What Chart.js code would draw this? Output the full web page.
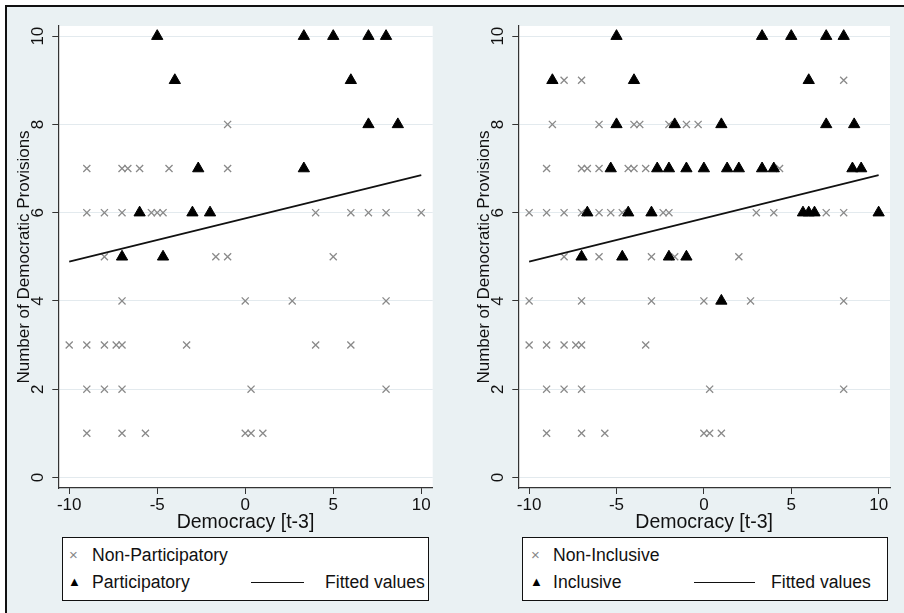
<!DOCTYPE html>
<html>
<head>
<meta charset="utf-8">
<script src="https://cdn.jsdelivr.net/npm/chart.js@4.4.1/dist/chart.umd.min.js"></script>
<style>
  html, body { margin: 0; padding: 0; background: #fff; }
  body { width: 904px; height: 613px; position: relative; overflow: hidden;
         font-family: 'Liberation Sans', Arial, sans-serif; color: #111; }
  #frame { position: absolute; left: 5px; top: 5px; width: 910px; height: 620px;
           border-top: 2px solid #111; border-left: 2px solid #111; background: #eaf1f3; }
  canvas { position: absolute; }
  .legend { position: absolute; top: 537px; height: 62px; border: 1px solid #111; background: #fff; }
  .lg { position: absolute; font-size: 17.6px; line-height: 20px; height: 20px; white-space: nowrap; }
  .mk-x { color: #888; font-size: 15px; }
  .mk-t { color: #000; font-size: 13px; }
  .fitline { position: absolute; height: 0; border-top: 1.6px solid #111; }
</style>
</head>
<body>
<div id="frame"></div>
<canvas id="left" width="443" height="530" style="left:7px; top:7px;"></canvas>
<canvas id="right" width="437" height="530" style="left:467px; top:7px;"></canvas>

<div class="legend" style="left:62px; width:365px;"></div>
<div class="lg mk-x" style="left:69px; top:545px;">×</div>
<div class="lg" style="left:92px; top:545px;">Non-Participatory</div>
<div class="lg mk-t" style="left:68px; top:572px;">▲</div>
<div class="lg" style="left:92px; top:572px;">Participatory</div>
<div class="fitline" style="left:251px; top:582px; width:53px;"></div>
<div class="lg" style="left:325px; top:572px;">Fitted values</div>

<div class="legend" style="left:522px; width:364px;"></div>
<div class="lg mk-x" style="left:531px; top:545px;">×</div>
<div class="lg" style="left:553px; top:545px;">Non-Inclusive</div>
<div class="lg mk-t" style="left:530px; top:572px;">▲</div>
<div class="lg" style="left:553px; top:572px;">Inclusive</div>
<div class="fitline" style="left:694px; top:582px; width:61px;"></div>
<div class="lg" style="left:771px; top:572px;">Fitted values</div>

<script>
// axis ticks
const xTicks = [-10, -5, 0, 5, 10];
const yTicks = [0, 2, 4, 6, 8, 10];

// left panel: non-participatory (x marks)
const nonPartX = [-1,
  -9, -7, -6.67, -6, -4.33, -1,
  -9, -8, -7, -5.33, -5, -4.67, 4, 6, 7, 8, 10,
  -8, -1.67, -1, 5,
  -7, 0, 2.67, 8,
  -10, -9, -8, -7.33, -7, -3.33, 4, 6,
  -9, -8, -7, 0.33, 8,
  -9, -7, -5.67, 0, 0.33, 1];
const nonPartY = [8,
  7, 7, 7, 7, 7, 7,
  6, 6, 6, 6, 6, 6, 6, 6, 6, 6, 6,
  5, 5, 5, 5,
  4, 4, 4, 4,
  3, 3, 3, 3, 3, 3, 3, 3,
  2, 2, 2, 2, 2,
  1, 1, 1, 1, 1, 1];

// left panel: participatory (triangles)
const partX = [-5, 3.33, 5, 7, 8, -4, 6, 7, 8.67, -2.67, 3.33, -6, -3, -2, -7, -4.67];
const partY = [10, 10, 10, 10, 10, 9, 9, 8, 8, 7, 7, 6, 6, 6, 5, 5];

// right panel: non-inclusive (x marks)
const nonInclX = [-8, -7, 8,
  -8.67, -6, -4, -3.67, -2, -1, -0.33,
  -9, -7, -6.67, -6, -4.33, -4, -3.33, 4.33,
  -10, -9, -8, -7, -6, -5.33, -4.67, -2.33, -2, 3, 4, 7, 8,
  -8, -6, -3, -1.67, 2,
  -10, -7, -3, 0, 2.67, 8,
  -10, -9, -8, -7.33, -7, -3.33,
  -9, -8, -7, 0.33, 8,
  -9, -7, -5.67, 0, 0.33, 1];
const nonInclY = [9, 9, 9,
  8, 8, 8, 8, 8, 8, 8,
  7, 7, 7, 7, 7, 7, 7, 7,
  6, 6, 6, 6, 6, 6, 6, 6, 6, 6, 6, 6, 6,
  5, 5, 5, 5, 5,
  4, 4, 4, 4, 4, 4,
  3, 3, 3, 3, 3, 3,
  2, 2, 2, 2, 2,
  1, 1, 1, 1, 1, 1];

// right panel: inclusive (triangles)
const inclX = [-5, 3.33, 5, 7, 8,
  -8.67, -4, 6,
  -5, -1.67, 1, 7, 8.6,
  -5.33, -2.67, -2, -1, 0, 1.33, 2, 3.33, 4, 8.5, 9,
  -6.67, -4.33, -3, 5.67, 6, 6.33, 10,
  -7, -4.67, -2, -1,
  1];
const inclY = [10, 10, 10, 10, 10,
  9, 9, 9,
  8, 8, 8, 8, 8,
  7, 7, 7, 7, 7, 7, 7, 7, 7, 7, 7,
  6, 6, 6, 6, 6, 6, 6,
  5, 5, 5, 5,
  4];

// fitted line end points (same in both panels)
const fitX = [-10, 10];
const fitY = [4.89, 6.85];

const FONT = "'Liberation Sans', Arial, sans-serif";

const plotBg = {
  id: 'plotBg',
  beforeDraw(chart) {
    const { ctx, chartArea: a } = chart;
    ctx.save();
    ctx.fillStyle = '#ffffff';
    ctx.fillRect(a.left, a.top, a.right - a.left, a.bottom - a.top);
    ctx.restore();
  }
};

function toPoints(xs, ys) {
  return xs.map((x, i) => ({ x: x, y: ys[i] }));
}

function makePanel(id, crossX, crossY, triX, triY, crossLabel, triLabel, padRight) {
  const ctx = document.getElementById(id);
  return new Chart(ctx, {
    type: 'scatter',
    data: {
      datasets: [{
        type: 'line',
        label: 'Fitted values',
        data: toPoints(fitX, fitY),
        borderColor: '#111',
        borderWidth: 1.6,
        pointRadius: 0,
        fill: false
      }, {
        label: triLabel,
        data: toPoints(triX, triY),
        pointStyle: 'triangle',
        pointRadius: 6.5,
        backgroundColor: '#000',
        borderColor: '#000',
        borderWidth: 1
      }, {
        label: crossLabel,
        data: toPoints(crossX, crossY),
        pointStyle: 'crossRot',
        pointRadius: 5,
        backgroundColor: '#8a8a8a',
        borderColor: '#8a8a8a',
        borderWidth: 1.3
      }]
    },
    options: {
      responsive: false,
      animation: false,
      layout: { padding: { left: 0, top: 19, right: padRight, bottom: 0 } },
      plugins: { legend: { display: false }, tooltip: { enabled: false } },
      scales: {
        x: {
          type: 'linear',
          min: -10.62,
          max: 10.65,
          afterBuildTicks: s => { s.ticks = xTicks.map(v => ({ value: v })); },
          afterFit: s => { s.height = 49; },
          grid: { drawOnChartArea: false, tickLength: 6, tickColor: '#333' },
          border: { color: '#333', width: 1.2 },
          ticks: { color: '#111', font: { family: FONT, size: 17 }, padding: 1, maxRotation: 0, autoSkip: false },
          title: { display: true, text: 'Democracy [t-3]', color: '#111',
                   font: { family: FONT, size: 19.5 }, padding: { top: 0, bottom: 2.3 } }
        },
        y: {
          type: 'linear',
          min: -0.24,
          max: 10.23,
          afterBuildTicks: s => { s.ticks = yTicks.map(v => ({ value: v })); },
          afterFit: s => { s.width = 51.3; },
          grid: { color: '#e3eaee', lineWidth: 1, tickLength: 6, tickColor: '#333' },
          border: { color: '#333', width: 1.2 },
          ticks: { color: '#111', font: { family: FONT, size: 17 }, padding: 5,
                   minRotation: 90, maxRotation: 90, crossAlign: 'center' },
          title: { display: true, text: 'Number of Democratic Provisions', color: '#111',
                   font: { family: FONT, size: 17 }, padding: { top: 7, bottom: 0 } }
        }
      }
    },
    plugins: [plotBg]
  });
}

makePanel('left', nonPartX, nonPartY, partX, partY, 'Non-Participatory', 'Participatory', 17.3);
makePanel('right', nonInclX, nonInclY, inclX, inclY, 'Non-Inclusive', 'Inclusive', 14);
</script>
</body>
</html>
